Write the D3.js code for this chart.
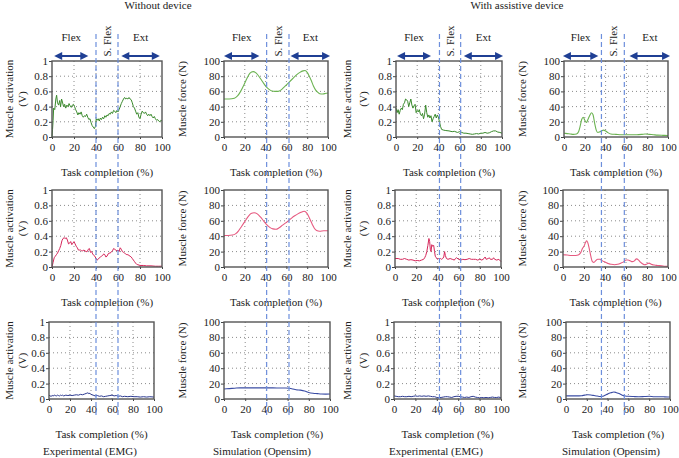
<!DOCTYPE html>
<html><head><meta charset="utf-8">
<script src="https://cdn.jsdelivr.net/npm/d3@7"></script>
<style>
body{margin:0;background:#fff;}
svg text{font-family:"Liberation Serif","Times New Roman",serif;fill:#222;}
</style></head>
<body><svg id="c" width="679" height="458"></svg>
<script>
// ---------- DATA ----------
const xTicks = [0,20,40,60,80,100];
const emgTicks = [0,0.2,0.4,0.6,0.8,1];
const forceTicks = [0,20,40,60,80,100];
const headers = ["Without device","With assistive device"];
const bottomLabels = ["Experimental (EMG)","Simulation (Opensim)","Experimental (EMG)","Simulation (Opensim)"];
const phaseNames = ["Flex","S. Flex","Ext"];
// phase boundaries (% task completion) per column
const phaseBounds = [[40,60],[41,62.5],[41,61],[36,58]];
// flex and ext arrow spans (%) per column
const flexArrows = [[2,33],[0,34],[1,33],[-1,33]];
const extArrows = [[63,98],[64,102],[64,101],[63,102]];

// Row 1 (green)
const emgNoDev1 = [[0,0],[0.5,0.1],[1,0.22],[1.5,0.38],[2.5,0.36],[3.5,0.5],[4.2,0.55],[5,0.45],[6,0.42],[7,0.48],[7.8,0.4],[8.7,0.5],[9.5,0.46],[10.5,0.4],[11.5,0.43],[12.5,0.38],[13.5,0.42],[14.5,0.4],[15.5,0.44],[16.5,0.41],[17.5,0.39],[18.5,0.42],[19.5,0.43],[20.5,0.4],[21.5,0.36],[22.5,0.33],[23.5,0.29],[24.5,0.32],[25.5,0.3],[26.5,0.33],[27.5,0.28],[28.5,0.26],[29.5,0.28],[30.5,0.27],[31.5,0.3],[32.5,0.26],[33.5,0.23],[34.5,0.24],[35.5,0.19],[36.5,0.15],[37.5,0.13],[38.5,0.11],[39.5,0.14],[40.2,0.24],[41,0.22],[42,0.24],[43,0.21],[44,0.25],[45,0.23],[46,0.26],[47,0.24],[48,0.28],[49,0.26],[50,0.29],[51,0.28],[52,0.31],[53,0.3],[54,0.33],[55,0.31],[56,0.35],[57,0.34],[58,0.32],[59,0.35],[60,0.33],[61,0.36],[62,0.4],[63,0.44],[64,0.47],[65,0.5],[66,0.52],[67,0.5],[68,0.51],[69,0.5],[70,0.52],[71,0.5],[72,0.49],[73,0.45],[74,0.4],[75,0.38],[76,0.34],[77,0.3],[78,0.32],[79,0.26],[80,0.24],[81,0.3],[82,0.34],[83,0.32],[84,0.31],[85,0.33],[86,0.3],[87,0.28],[88,0.3],[89,0.28],[90,0.3],[91,0.27],[92,0.25],[93,0.27],[94,0.24],[95,0.22],[96,0.23],[97,0.21],[98,0.2],[99,0.22],[100,0.21]];
const forceNoDev1 = [[0,50],[5,50],[10,51],[13,54],[16,60],[19,68],[22,77],[25,84],[28,86],[31,84],[34,79],[37,73],[40,67],[43,63],[46,60.5],[49,60],[52,60],[55,62],[58,66],[61,70],[64,74],[67,78],[70,82],[73,85],[76,87],[78,87.5],[80,85],[82,80],[84,74],[86,67],[88,62],[90,59],[92,57],[95,56.5],[98,57.5],[100,58]];
const emgDev1 = [[0,0.38],[1,0.32],[2,0.36],[3,0.3],[4,0.35],[5,0.38],[6,0.36],[7,0.43],[8,0.45],[9,0.5],[10,0.49],[11,0.47],[12,0.4],[13,0.45],[14,0.5],[15,0.42],[16,0.38],[17,0.41],[18,0.43],[19,0.32],[20,0.35],[21,0.33],[22,0.36],[23,0.3],[24,0.28],[25,0.31],[26,0.24],[27,0.3],[28,0.42],[29,0.32],[30,0.26],[31,0.29],[32,0.25],[33,0.28],[34,0.2],[35,0.24],[36,0.27],[37,0.3],[38,0.25],[39,0.29],[40,0.26],[41,0.2],[42,0.14],[43,0.1],[45,0.09],[47,0.085],[50,0.08],[53,0.07],[55,0.075],[58,0.06],[60,0.07],[62,0.06],[64,0.05],[66,0.05],[68,0.045],[70,0.04],[72,0.035],[74,0.04],[76,0.045],[78,0.04],[80,0.05],[82,0.05],[84,0.06],[86,0.05],[88,0.055],[90,0.07],[92,0.08],[94,0.08],[96,0.065],[98,0.06],[100,0.05]];
const forceDev1 = [[0,5],[3,4.5],[6,4],[9,3.5],[12,4],[14,7],[15.5,14],[17,23],[18.5,26],[20,22],[21.5,19],[23,23],[25,29],[26.5,32],[28,29],[29.5,18],[31,9],[32.5,6],[34,6.5],[36,8],[38,9],[40,8],[42,6],[45,4],[50,3.5],[55,3],[60,3],[65,3],[70,3],[75,3.5],[78,4],[82,3.5],[86,3],[90,2.5],[95,2.2],[100,2]];

// Row 2 (red)
const emgNoDev2 = [[0,0],[1,0.06],[2,0.12],[3,0.14],[4,0.16],[5,0.18],[6,0.21],[7,0.24],[8,0.28],[9,0.34],[10,0.37],[11,0.38],[12,0.37],[13,0.38],[14,0.35],[15,0.3],[16,0.31],[17,0.33],[18,0.29],[19,0.31],[20,0.33],[21,0.3],[22,0.27],[23,0.25],[24,0.22],[25,0.22],[26,0.22],[27,0.21],[28,0.21],[29,0.22],[30,0.21],[31,0.2],[32,0.2],[33,0.23],[34,0.24],[35,0.19],[36,0.2],[37,0.17],[38,0.15],[39,0.14],[40,0.11],[41,0.09],[42,0.1],[43,0.12],[44,0.13],[45,0.14],[46,0.15],[47,0.17],[48,0.16],[49,0.13],[50,0.14],[51,0.17],[52,0.18],[53,0.18],[54,0.2],[55,0.21],[56,0.24],[57,0.23],[58,0.22],[59,0.21],[60,0.22],[61,0.2],[62,0.25],[63,0.23],[64,0.2],[65,0.19],[66,0.18],[67,0.17],[68,0.16],[69,0.16],[70,0.15],[71,0.14],[72,0.13],[73,0.11],[74,0.09],[75,0.07],[76,0.05],[77,0.035],[78,0.03],[80,0.02],[83,0.02],[86,0.015],[90,0.015],[94,0.01],[97,0.01],[100,0.01]];
const forceNoDev2 = [[0,41],[4,41],[8,41.5],[11,43],[14,47],[17,53],[20,59],[23,65],[26,69.5],[29,70.5],[32,69],[35,65],[38,60],[41,55],[44,51.5],[47,49.5],[50,49],[53,51],[56,54],[59,57],[62,60],[65,63.5],[68,66.5],[71,69],[74,71],[77,72.5],[79,71],[81,67],[83,61],[85,55],[87,50],[89,47.5],[92,46.5],[96,47],[100,47]];
const emgDev2 = [[0,0.11],[3,0.11],[5,0.1],[7,0.1],[9,0.11],[11,0.1],[13,0.09],[15,0.095],[17,0.09],[19,0.08],[21,0.085],[23,0.08],[25,0.09],[27,0.1],[28,0.12],[29,0.15],[30,0.2],[31,0.28],[32,0.37],[32.7,0.33],[33.3,0.23],[34,0.2],[34.7,0.29],[35.5,0.27],[36.5,0.28],[37.3,0.2],[38,0.14],[39,0.12],[40,0.1],[41,0.11],[42,0.1],[43,0.11],[44,0.1],[45,0.11],[46,0.13],[46.8,0.2],[47.5,0.15],[48.5,0.11],[50,0.1],[52,0.11],[54,0.1],[56,0.09],[57,0.11],[58,0.12],[60,0.1],[62,0.09],[64,0.1],[66,0.095],[68,0.1],[70,0.11],[72,0.1],[74,0.1],[76,0.1],[78,0.09],[80,0.1],[82,0.09],[84,0.11],[85,0.13],[86,0.1],[88,0.11],[89,0.12],[90,0.1],[92,0.1],[93,0.12],[94,0.1],[96,0.09],[98,0.1],[100,0.07]];
const forceDev2 = [[0,16],[4,15.5],[8,15],[12,15],[15,16],[17,19],[18.5,24],[20,27],[21.5,32],[22.5,34],[23.5,32],[25,24],[26.5,14],[28,7],[29.5,6],[31,8],[33,10],[35,10],[37,8.5],[39,7],[41,6],[43,4.5],[46,3.5],[49,3],[52,3.5],[55,5],[58,7],[60,9],[62,9],[64,8],[66,7],[68,8],[70,10.5],[72,9],[74,6],[76,4],[78,3],[80,4],[82,5],[84,3.5],[87,2.5],[90,2],[94,1.5],[97,1],[100,0.8]];

// Row 3 (blue)
const emgNoDev3 = [[0,0.05],[1,0.04],[2,0.035],[3,0.045],[4,0.04],[5,0.05],[6,0.045],[7,0.04],[8,0.05],[9,0.045],[10,0.04],[11,0.05],[12,0.045],[13,0.05],[14,0.04],[16,0.05],[18,0.045],[20,0.05],[22,0.045],[24,0.05],[26,0.055],[28,0.05],[30,0.06],[32,0.055],[34,0.065],[36,0.075],[37,0.08],[38,0.07],[39,0.075],[40,0.06],[42,0.05],[44,0.04],[46,0.045],[48,0.035],[50,0.04],[52,0.03],[54,0.035],[56,0.04],[58,0.045],[60,0.05],[62,0.04],[64,0.045],[66,0.035],[68,0.04],[70,0.03],[72,0.035],[75,0.03],[78,0.035],[81,0.03],[84,0.03],[87,0.025],[90,0.03],[93,0.025],[96,0.03],[100,0.025]];
const forceNoDev3 = [[0,13],[5,13.5],[10,14],[15,14.5],[20,14.5],[30,14.5],[40,14.5],[50,14.3],[58,14.2],[62,14],[65,13],[68,12],[72,11.5],[76,10.5],[80,8.5],[84,7.5],[88,7],[92,6.5],[96,6.3],[100,6.5]];
const emgDev3 = [[0,0.04],[2,0.035],[4,0.03],[6,0.03],[8,0.035],[10,0.03],[12,0.03],[14,0.035],[16,0.03],[18,0.035],[20,0.04],[22,0.035],[24,0.04],[26,0.035],[28,0.04],[30,0.035],[32,0.04],[34,0.035],[36,0.03],[38,0.03],[40,0.02],[42,0.015],[44,0.02],[46,0.025],[48,0.03],[50,0.03],[52,0.025],[54,0.02],[56,0.03],[58,0.035],[60,0.035],[62,0.03],[64,0.025],[66,0.02],[68,0.025],[70,0.02],[72,0.03],[74,0.035],[76,0.025],[78,0.02],[80,0.015],[82,0.02],[84,0.015],[86,0.02],[88,0.015],[90,0.02],[92,0.025],[94,0.02],[96,0.02],[98,0.025],[100,0.015]];
const forceDev3 = [[0,4],[5,4],[10,4],[15,4.3],[18,5],[21,5.5],[24,5.2],[27,4.5],[30,3.8],[33,3.2],[35,3.5],[37,4.5],[40,6.5],[43,8],[46,9],[48,8.5],[51,7],[54,5],[57,4],[60,3.5],[65,3.2],[70,3],[75,3.2],[80,3.5],[85,3],[90,3],[95,2.8],[100,2.5]];

const series = [
  [emgNoDev1, forceNoDev1, emgDev1, forceDev1],
  [emgNoDev2, forceNoDev2, emgDev2, forceDev2],
  [emgNoDev3, forceNoDev3, emgDev3, forceDev3]
];

// ---------- LAYOUT / STYLE ----------
const rowY = [[61,137],[190,267],[322,399]];
const colX = [
  [[52,162],[224,328],[396,502],[564,668]],
  [[52,162],[224,328],[395,501],[563,668]],
  [[49,154],[224,330],[394,501],[566,670]]
];
const rowColors = [["#3a8a2c","#6cb352"],["#d5265a","#e65a80"],["#2b3990","#3a4ca4"]];
const yLabelX = [[9,22],[182],[347,363],[522]];
const headerX = [158,517];
const bottomX = [90,262,436,611];
const font = 11;

const svg = d3.select("#c");

headers.forEach((h,i)=>svg.append("text").attr("x",headerX[i]).attr("y",9)
  .attr("text-anchor","middle").attr("font-size",font).text(h));

for(let r=0;r<3;r++){
  for(let c=0;c<4;c++){
    const [x0,x1]=colX[r][c], [y0,y1]=rowY[r];
    const isEmg = c%2===0;
    const x = d3.scaleLinear().domain([0,100]).range([x0,x1]);
    const y = d3.scaleLinear().domain(isEmg?[0,1]:[0,100]).range([y1,y0]);
    const g = svg.append("g");
    // grid
    g.append("g").selectAll("line").data(xTicks.slice(1,-1)).join("line")
      .attr("x1",d=>x(d)).attr("x2",d=>x(d)).attr("y1",y0).attr("y2",y1)
      .attr("stroke","#8a8a8a").attr("stroke-dasharray","1,3");
    const yt = isEmg?emgTicks:forceTicks;
    g.append("g").selectAll("line").data(yt.slice(1,-1)).join("line")
      .attr("x1",x0).attr("x2",x1).attr("y1",d=>y(d)).attr("y2",d=>y(d))
      .attr("stroke","#8a8a8a").attr("stroke-dasharray","1,3");
    // axes
    const ax = g.append("g").attr("transform",`translate(0,${y1})`)
      .call(d3.axisBottom(x).tickValues(xTicks).tickSize(2).tickPadding(4).tickFormat(d3.format("d")));
    const ay = g.append("g").attr("transform",`translate(${x0},0)`)
      .call(d3.axisLeft(y).tickValues(yt).tickSize(3).tickPadding(1)
        .tickFormat(isEmg?(d=>d===0||d===1?String(d):d3.format(".1f")(d)):d3.format("d")));
    [ax,ay].forEach(a=>{a.select(".domain").remove();
      a.selectAll("text").attr("font-size",font).attr("font-family","Liberation Serif, serif").attr("fill","#222");
      a.selectAll("line").attr("stroke","#444");});
    // line
    const line = d3.line().x(d=>x(d[0])).y(d=>y(d[1]));
    if(!isEmg) line.curve(d3.curveMonotoneX);
    g.append("path").datum(series[r][c]).attr("d",line).attr("fill","none")
      .attr("stroke",rowColors[r][isEmg?0:1]).attr("stroke-width",isEmg?1:1.1)
      .attr("stroke-linejoin","round");
    // frame
    g.append("rect").attr("x",x0).attr("y",y0).attr("width",x1-x0).attr("height",y1-y0)
      .attr("fill","none").attr("stroke","#555").attr("stroke-width",1.4);
    // y label
    const cy=(y0+y1)/2;
    const labs = isEmg?["Muscle activation","(V)"]:["Muscle force (N)"];
    labs.forEach((t,k)=>svg.append("text").attr("transform",`translate(${yLabelX[c][k]},${cy}) rotate(-90)`)
      .attr("text-anchor","middle").attr("dy","0.35em").attr("font-size",font).text(t));
    // x label
    svg.append("text").attr("x",(x0+x1)/2).attr("y",y1+39).attr("text-anchor","middle")
      .attr("font-size",font).text("Task completion (%)");
  }
}

// phase annotations (using row-1 scales)
const defs = svg.append("defs");
for(let c=0;c<4;c++){
  const [x0,x1]=colX[0][c];
  const x = d3.scaleLinear().domain([0,100]).range([x0,x1]);
  const [b0,b1]=phaseBounds[c];
  svg.append("g").selectAll("line").data([b0,b1]).join("line")
    .attr("x1",d=>x(d)).attr("x2",d=>x(d)).attr("y1",34).attr("y2",415)
    .attr("stroke","#6d8fdc").attr("stroke-width",1.2).attr("stroke-dasharray","5,3");
  const fa=flexArrows[c], ea=extArrows[c];
  svg.append("text").attr("x",x((fa[0]+fa[1])/2)).attr("y",41).attr("text-anchor","middle").attr("font-size",font).text(phaseNames[0]);
  svg.append("text").attr("x",x((ea[0]+ea[1])/2)).attr("y",41).attr("text-anchor","middle").attr("font-size",font).text(phaseNames[2]);
  svg.append("text").attr("transform",`translate(${x((b0+b1)/2)},41) rotate(-90)`)
    .attr("text-anchor","middle").attr("dy","0.35em").attr("font-size",font).text(phaseNames[1]);
  [fa,ea].forEach(a=>{
    const xa=x(a[0]), xb=x(a[1]), yy=56, hl=8, hw=4;
    svg.append("line").attr("x1",xa+hl-1).attr("x2",xb-hl+1).attr("y1",yy).attr("y2",yy)
      .attr("stroke","#1f3f94").attr("stroke-width",2);
    svg.append("path").attr("d",`M${xa},${yy}L${xa+hl},${yy-hw}L${xa+hl},${yy+hw}Z`).attr("fill","#1f3f94");
    svg.append("path").attr("d",`M${xb},${yy}L${xb-hl},${yy-hw}L${xb-hl},${yy+hw}Z`).attr("fill","#1f3f94");
  });
}

bottomLabels.forEach((t,i)=>svg.append("text").attr("x",bottomX[i]).attr("y",455)
  .attr("text-anchor","middle").attr("font-size",font).text(t));
</script></body></html>
